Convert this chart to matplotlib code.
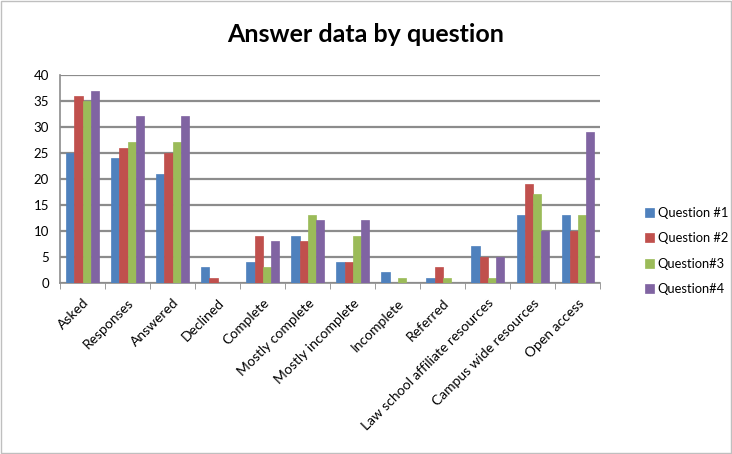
import numpy as np
import matplotlib.pyplot as plt
from matplotlib.patches import Rectangle

categories = ['Asked', 'Responses', 'Answered', 'Declined', 'Complete', 'Mostly complete',
              'Mostly incomplete', 'Incomplete', 'Referred', 'Law school affiliate resources',
              'Campus wide resources', 'Open access']
q1 = [25, 24, 21, 3, 4, 9, 4, 2, 1, 7, 13, 13]
q2 = [36, 26, 25, 1, 9, 8, 4, 0, 3, 5, 19, 10]
q3 = [35, 27, 27, 0, 3, 13, 9, 1, 1, 1, 17, 13]
q4 = [37, 32, 32, 0, 8, 12, 12, 0, 0, 5, 10, 29]
series = [q1, q2, q3, q4]
names = ['Question #1', 'Question #2', 'Question#3', 'Question#4']
colors = ['#4F81BD', '#C0504D', '#9BBB59', '#8064A2']

plt.rcParams['font.family'] = ['Lato', 'DejaVu Sans']

fig = plt.figure(figsize=(7.32, 4.54), dpi=100)
ax = fig.add_axes([0.082, 0.377, 0.738, 0.458])

x = np.arange(len(categories))
w = 0.18
for i, (vals, nm, c) in enumerate(zip(series, names, colors)):
    ax.bar(x + (i - 1.5) * w, vals, w, color=c, edgecolor=c, linewidth=0.5, label=nm, zorder=3)

for yv in range(0, 41, 5):
    ax.axhline(yv, color='#8c8c8c', linewidth=1.6, zorder=1)

ax.set_ylim(0, 40)
ax.set_xlim(-0.5, len(categories) - 0.5)
ax.set_yticks(range(0, 41, 5))
ax.set_xticks(x)
ax.set_xticks(np.arange(-0.5, len(categories), 1), minor=True)
ax.set_xticklabels(categories, rotation=45, ha='right', rotation_mode='anchor', fontsize=10)
ax.tick_params(axis='y', labelsize=9.5, length=0, pad=8)
ax.tick_params(axis='x', which='major', length=0, pad=10)
ax.tick_params(axis='x', which='minor', length=4, color='#8c8c8c')
for s in ['top', 'right']:
    ax.spines[s].set_visible(False)
ax.spines['left'].set_color('#8c8c8c')
ax.spines['bottom'].set_color('#8c8c8c')
ax.spines['left'].set_linewidth(1.2)
ax.spines['bottom'].set_linewidth(1.2)

fig.suptitle('Answer data by question', fontsize=18, fontweight='bold', y=0.95)
fig.legend(loc='center left', bbox_to_anchor=(0.865, 0.447), frameon=False, fontsize=9.3,
           handlelength=0.7, handleheight=0.7, handletextpad=0.3, labelspacing=1.05)

fig.patches.append(Rectangle((0.002, 0.002), 0.996, 0.996, transform=fig.transFigure,
                             fill=False, edgecolor='#bfbfbf', linewidth=1))

fig.savefig('out.png', dpi=100)
